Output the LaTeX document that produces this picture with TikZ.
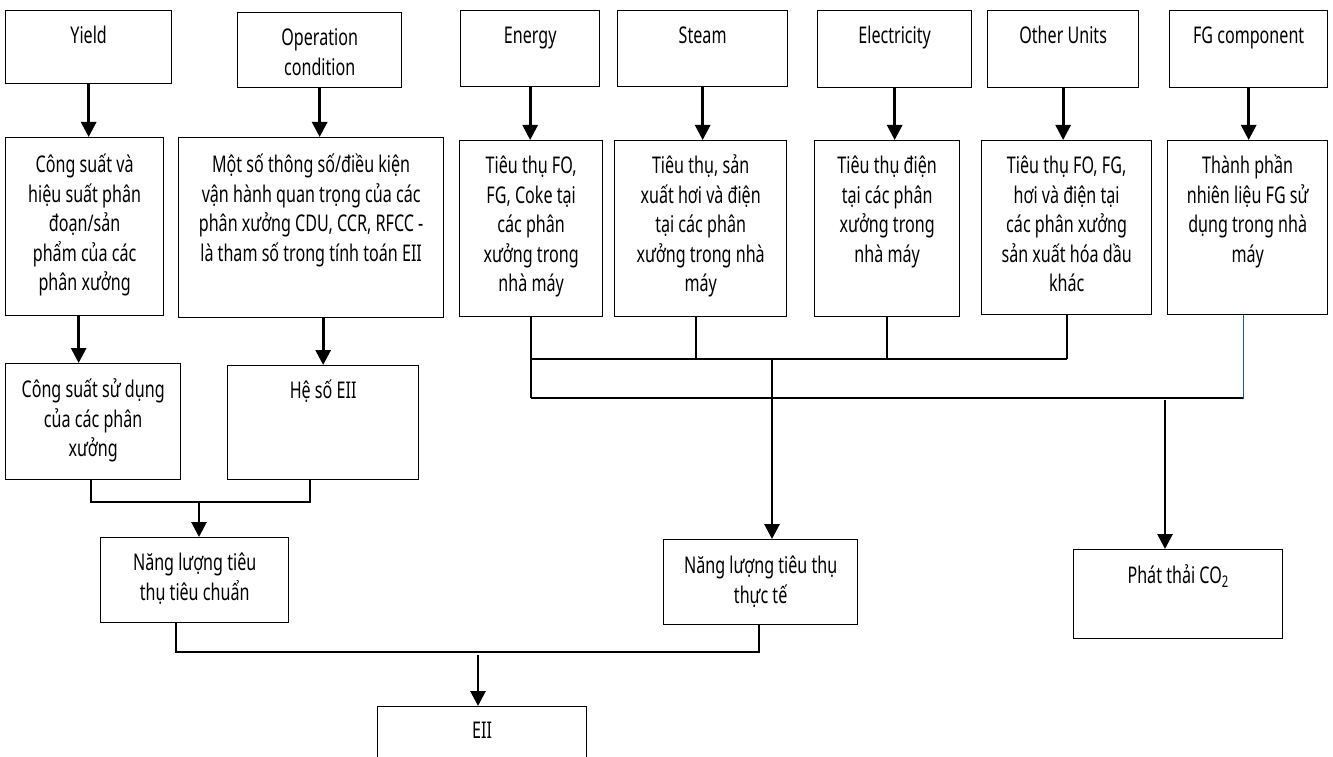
\documentclass[tikz,border=0pt]{standalone}
\usepackage{fontspec}
\setmainfont[FakeStretch=0.7]{Noto Sans}
\usetikzlibrary{arrows.meta}
\definecolor{tealline}{HTML}{1B5777}
\tikzset{
  box/.style={draw, line width=1.3pt, inner sep=0pt, anchor=north west, align=center,
    font=\fontsize{23}{29.5}\selectfont},
  arr/.style={line width=2.8pt, -{Triangle[length=15pt,width=15pt]}},
  ln/.style={line width=1.8pt}
}
\newcommand\mybox[7][33]{%
  \pgfmathsetmacro\bw{#5-#3}\pgfmathsetmacro\bh{#6-#4}%
  \node[box, minimum width=\bw pt, minimum height=\bh pt] (#2) at (#3,-#4)
    {\parbox[c][\bh pt][t]{\bw pt}{\centering\rule{0pt}{#1pt}#7\par}};}
\begin{document}
\begin{tikzpicture}[x=1pt,y=1pt]
\useasboundingbox (0,0) rectangle (1333,-757);
\clip (0,0) rectangle (1333,-757);
% row 1
\mybox{yield}{5}{10}{171}{83}{Yield}
\mybox{op}{237}{12}{401}{87}{Operation\\condition}
\mybox{energy}{460}{10}{599}{86}{Energy}
\mybox{steam}{617}{10}{787}{86}{Steam}
\mybox{elec}{817}{10}{971}{87}{Electricity}
\mybox{other}{987}{10}{1138}{87}{Other Units}
\mybox{fg}{1169}{10}{1327}{87}{FG component}
% row 2
\mybox[35]{csa}{5}{137}{163}{315}{Công suất và\\hiệu suất phân\\đoạn/sản\\phẩm của các\\phân xưởng}
\mybox[35]{ms}{178}{137}{443}{317}{Một số thông số/điều kiện\\vận hành quan trọng của các\\phân xưởng CDU, CCR, RFCC -\\là tham số trong tính toán EII}
\mybox{ena}{459}{140}{602}{316}{Tiêu thụ FO,\\FG, Coke tại\\các phân\\xưởng trong\\nhà máy}
\mybox{sta}{614}{140}{786}{316}{Tiêu thụ, sản\\xuất hơi và điện\\tại các phân\\xưởng trong nhà\\máy}
\mybox{ela}{814}{140}{959}{316}{Tiêu thụ điện\\tại các phân\\xưởng trong\\nhà máy}
\mybox{ota}{981}{140}{1151}{314}{Tiêu thụ FO, FG,\\hơi và điện tại\\các phân xưởng\\sản xuất hóa dầu\\khác}
\mybox{fga}{1167}{140}{1327}{314}{Thành phần\\nhiên liệu FG sử\\dụng trong nhà\\máy}
% row 3
\mybox[34]{csb}{5}{363}{180}{479}{Công suất sử dụng\\của các phân\\xưởng}
\mybox{hs}{227}{365}{418}{479}{Hệ số EII}
% row 4
\mybox{nltc}{100}{537}{288}{622}{Năng lượng tiêu\\thụ tiêu chuẩn}
\mybox[34]{nltt}{663}{539}{857}{624}{Năng lượng tiêu thụ\\thực tế}
\mybox[34]{co}{1073}{549}{1282}{638}{Phát thải CO\textsubscript{2}}
\mybox[32]{eii}{377}{706}{586}{790}{EII}
% top arrows
\foreach \a/\b in {yield/csa, op/ms, energy/ena, steam/sta, elec/ela, other/ota, fg/fga}
  \draw[arr] (\a.south) -- (\a.south |- \b.north);
\draw[arr] ([xshift=-6pt]csa.south) -- ([xshift=-6pt]csa.south |- csb.north);
\draw[arr] (hs.north |- ms.south) -- (hs.north);
% left merge
\coordinate (j1) at (199,-502);
\draw[ln] ([xshift=-2.5pt]csb.south) |- (j1) -| ([xshift=-13.5pt]hs.south);
\draw[arr] ([yshift=-1pt]j1) -- (j1 |- nltc.north);
% bottom merge
\coordinate (j2) at (478,-652);
\draw[ln] ([xshift=-19pt]nltc.south) |- (j2) -| ([xshift=-2pt]nltt.south);
\draw[arr] ([yshift=-3pt]j2) -- (j2 |- eii.north);
% energy buses
\coordinate (b1) at (772,-359);
\coordinate (b2) at (1165,-398);
\draw[ln] (ena.south) -- (ena.south |- b2);
\draw[ln] ([xshift=-5pt]sta.south) -- ([xshift=-5pt]sta.south |- b1);
\draw[ln] (ela.south) -- (ela.south |- b1);
\draw[ln] (ota.south) -- (ota.south |- b1);
\draw[ln] (ena.south |- b1) -- (ota.south |- b1);
\draw[ln] (ena.south |- b2) -- ([xshift=-4pt]fga.south |- b2);
\draw[line width=1.6pt, tealline] ([xshift=-4pt]fga.south) -- ([xshift=-4pt,yshift=-0.6pt]fga.south |- b2);
\draw[arr] (b1) -- (b1 |- nltt.north);
\draw[arr] ([yshift=-2pt]b2) -- (b2 |- co.north);
\end{tikzpicture}
\end{document}
